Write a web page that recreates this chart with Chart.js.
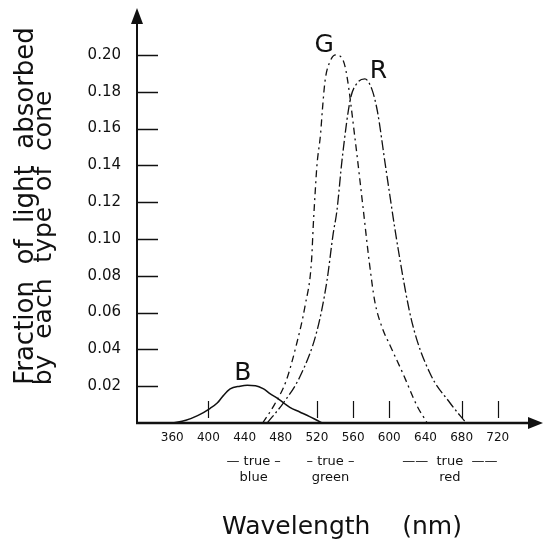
<!DOCTYPE html>
<html>
<head>
<meta charset="utf-8">
<title>Cone absorption</title>
<script src="https://cdn.jsdelivr.net/npm/chart.js@4.4.0/dist/chart.umd.min.js"></script>
<style>
  html, body { margin: 0; padding: 0; background: #fff; }
  #wrap { width: 545px; height: 552px; }
</style>
</head>
<body>
<div id="wrap"><canvas id="chart" width="545" height="552"></canvas></div>
<script>
// values: wavelength (nm) and fraction absorbed
const blueWave = [360, 375, 388, 402, 410, 415, 424, 435, 443, 452, 461, 468, 476, 483, 490, 501, 512, 520, 526];
const blueFrac = [0, 0.0015, 0.004, 0.008, 0.011, 0.014, 0.0185, 0.020, 0.0205, 0.0203, 0.0185, 0.016, 0.0135, 0.011, 0.0085, 0.006, 0.0035, 0.0015, 0];

const greenWave = [460, 473, 486, 497, 507, 514, 516, 518, 520, 524, 526, 529, 535, 541, 549, 553, 562, 571, 578, 584, 592, 601, 615, 631, 642];
const greenFrac = [0, 0.010, 0.023, 0.042, 0.064, 0.088, 0.108, 0.125, 0.140, 0.157, 0.170, 0.186, 0.197, 0.200, 0.197, 0.189, 0.155, 0.117, 0.087, 0.066, 0.052, 0.042, 0.027, 0.009, 0];

const redWave = [465, 483, 501, 520, 531, 538, 542, 548, 557, 565, 573, 581, 587, 596, 610, 625, 645, 667, 685];
const redFrac = [0, 0.011, 0.025, 0.050, 0.077, 0.103, 0.115, 0.144, 0.176, 0.185, 0.187, 0.181, 0.169, 0.139, 0.094, 0.055, 0.027, 0.011, 0];

const xTickValues = [360, 400, 440, 480, 520, 560, 600, 640, 680, 720];
const xTickMarks = [400, 520, 560, 600, 680, 720];
const yTickValues = [0.02, 0.04, 0.06, 0.08, 0.10, 0.12, 0.14, 0.16, 0.18, 0.20];

const curveNames = ['B', 'G', 'R'];
const nameWave = [438, 528, 588];
const nameFrac = [0.027, 0.205, 0.191];

const bandTop = ['— true –', '– true –', '——  true  ——'];
const bandBottom = ['blue', 'green', 'red'];
const bandWave = [450, 535, 667];

const ink = '#111';
const FONT = "'DejaVu Sans', sans-serif";
Chart.defaults.font.family = FONT;
Chart.defaults.color = ink;

function pts(w, f) { return w.map((v, i) => ({ x: v, y: f[i] })); }

function vText(ctx, s, bx, cy) {
  ctx.save();
  ctx.translate(bx, cy);
  ctx.rotate(-Math.PI / 2);
  ctx.textAlign = 'center';
  ctx.textBaseline = 'alphabetic';
  ctx.fillText(s, 0, 0);
  ctx.restore();
}

// axes with arrow heads, inner tick marks, curve letters and band notes
const sketchAxes = {
  id: 'sketchAxes',
  afterDatasetsDraw(chart) {
    const { ctx, chartArea: a, scales: { x, y } } = chart;
    const y0 = y.getPixelForValue(0);
    ctx.save();
    ctx.strokeStyle = ink;
    ctx.fillStyle = ink;

    ctx.lineWidth = 2;
    ctx.beginPath(); ctx.moveTo(a.left, y0 + 1); ctx.lineTo(a.left, a.top + 12); ctx.stroke();
    ctx.beginPath(); ctx.moveTo(a.left, a.top); ctx.lineTo(a.left - 6, a.top + 16); ctx.lineTo(a.left + 6, a.top + 16); ctx.closePath(); ctx.fill();

    ctx.lineWidth = 2.5;
    ctx.beginPath(); ctx.moveTo(a.left - 1, y0); ctx.lineTo(a.right - 10, y0); ctx.stroke();
    ctx.beginPath(); ctx.moveTo(a.right, y0); ctx.lineTo(a.right - 15, y0 - 6); ctx.lineTo(a.right - 15, y0 + 6); ctx.closePath(); ctx.fill();

    ctx.lineWidth = 1.5;
    yTickValues.forEach(v => {
      const py = Math.round(y.getPixelForValue(v)) + 0.5;
      ctx.beginPath(); ctx.moveTo(a.left, py); ctx.lineTo(a.left + 21, py); ctx.stroke();
    });
    ctx.lineWidth = 1.2;
    xTickMarks.forEach(v => {
      const px = Math.round(x.getPixelForValue(v)) + 0.5;
      ctx.beginPath(); ctx.moveTo(px, y0 - 22); ctx.lineTo(px, y0 - 5); ctx.stroke();
    });

    ctx.textAlign = 'center';
    ctx.textBaseline = 'middle';
    ctx.font = '25px ' + FONT;
    curveNames.forEach((n, i) => {
      ctx.fillText(n, x.getPixelForValue(nameWave[i]), y.getPixelForValue(nameFrac[i]));
    });

    ctx.font = '13px ' + FONT;
    bandWave.forEach((w, i) => {
      const px = x.getPixelForValue(w);
      ctx.fillText(bandTop[i], px, y0 + 39);
      ctx.fillText(bandBottom[i], px, y0 + 55);
    });

    ctx.font = '25px ' + FONT;
    ctx.fillText('Wavelength    (nm)', (a.left + a.right) / 2 + 2, y0 + 104);

    ctx.font = '26px ' + FONT;
    vText(ctx, 'Fraction  of  light  absorbed', 33, 206);
    ctx.font = '25px ' + FONT;
    vText(ctx, 'by  each  type  of  cone', 51, 238);
    ctx.restore();
  }
};

new Chart(document.getElementById('chart'), {
  type: 'scatter',
  data: {
    datasets: [
      { label: 'B', data: pts(blueWave, blueFrac), borderColor: ink, borderWidth: 1.5 },
      { label: 'G', data: pts(greenWave, greenFrac), borderColor: ink, borderWidth: 1.3, borderDash: [7, 4, 2, 4] },
      { label: 'R', data: pts(redWave, redFrac), borderColor: ink, borderWidth: 1.3, borderDash: [10, 3, 2, 3] }
    ]
  },
  options: {
    responsive: false,
    devicePixelRatio: 1,
    animation: false,
    layout: { padding: { top: 8, right: 2, left: 0, bottom: 0 } },
    elements: {
      point: { radius: 0, hoverRadius: 0 },
      line: { cubicInterpolationMode: 'monotone', fill: false }
    },
    datasets: { scatter: { showLine: true } },
    plugins: { legend: { display: false }, tooltip: { enabled: false } },
    scales: {
      x: {
        type: 'linear', min: 321, max: 770,
        afterFit: s => { s.height = 129; s.paddingLeft = 0; s.paddingRight = 0; },
        afterBuildTicks: s => { s.ticks = xTickValues.map(v => ({ value: v })); },
        grid: { display: false, drawTicks: false }, border: { display: false },
        ticks: { font: { size: 12 }, color: ink, padding: 8, autoSkip: false, maxRotation: 0, callback: v => String(v) }
      },
      y: {
        type: 'linear', min: 0, max: 0.2255,
        afterFit: s => { s.width = 137; s.paddingTop = 0; s.paddingBottom = 0; },
        afterBuildTicks: s => { s.ticks = yTickValues.map(v => ({ value: v })); },
        grid: { display: false, drawTicks: false }, border: { display: false },
        ticks: { font: { size: 15 }, color: ink, padding: 16, callback: v => v.toFixed(2) }
      }
    }
  },
  plugins: [sketchAxes]
});
</script>
</body>
</html>
